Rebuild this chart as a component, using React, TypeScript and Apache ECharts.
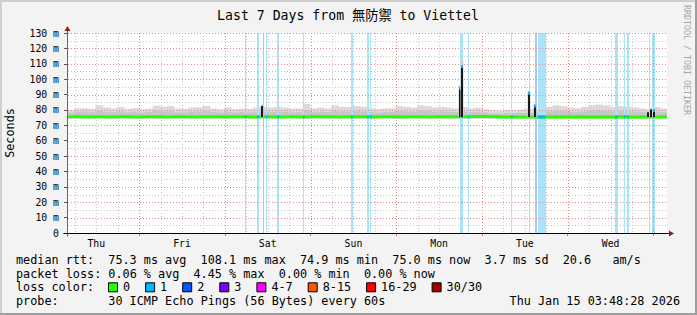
import { useEffect, useRef } from 'react';
import * as echarts from 'echarts';

// ---------- texts ----------
const titleText = 'Last 7 Days from 無防禦 to Viettel';
const yAxisTitle = 'Seconds';
const watermark = 'RRDTOOL / TOBI OETIKER';
const dayLabels = ['Thu', 'Fri', 'Sat', 'Sun', 'Mon', 'Tue', 'Wed'];
const dayNoonHours = [12, 36, 60, 84, 108, 132, 156];
const dayMidnightHours = [24, 48, 72, 96, 120, 144, 168];

// ---------- axis ranges (hours since Thu 00:00) ----------
const xStartHour = 3.8;
const xEndHour = 171.8;
const binHours = 2;
const yMax = 130;
const yStep = 10;

// ---------- smoke / median (ms), one value per 2-hour bin ----------
const smokeFloor = 74.6;
const smokeTop = [
  80.0, 81.0, 81.2, 80.8, 83.0, 81.5, 81.0, 81.8, 80.8, 81.2,
  80.5, 81.0, 82.8, 82.0, 82.5, 81.0, 80.8, 81.5, 81.8, 82.5,
  81.0, 80.5, 81.5, 80.5, 81.0, 80.8, 81.5, 82.0,
  81.5, 82.0, 81.5, 80.8, 81.0, 84.0, 81.0, 81.5, 81.0, 83.0,
  82.0, 82.0, 82.5, 82.0, 81.0, 80.5, 81.0, 81.0, 82.5, 82.0,
  81.5, 83.0, 82.5, 81.5, 82.0, 81.5, 81.0, 82.0,
  81.0, 81.5, 80.5, 79.8, 79.5, 80.0, 79.8, 80.2, 80.5, 80.5,
  81.5, 82.0, 83.0, 82.5, 81.5, 81.0, 82.0, 83.0, 83.5, 83.0,
  82.0, 82.5, 82.0, 81.5, 81.0, 80.5, 82.0, 81.0,
];
const smokeMid = [
  78.2, 78.8, 79.0, 78.5, 79.5, 78.8, 78.6, 79.0, 78.4, 78.8,
  78.2, 78.6, 79.4, 79.0, 79.2, 78.5, 78.4, 78.8, 79.0, 79.2,
  78.6, 78.2, 78.8, 78.3, 78.6, 78.4, 78.8, 79.0,
  78.8, 79.0, 78.8, 78.4, 78.6, 79.6, 78.5, 78.8, 78.6, 79.3,
  79.0, 79.0, 79.2, 79.0, 78.5, 78.2, 78.6, 78.6, 79.2, 79.0,
  78.8, 79.4, 79.2, 78.8, 79.0, 78.8, 78.6, 79.0,
  78.6, 78.8, 78.2, 77.8, 77.6, 77.9, 77.8, 78.0, 78.2, 78.2,
  78.8, 79.0, 79.4, 79.2, 78.8, 78.5, 79.0, 79.4, 79.6, 79.4,
  79.0, 79.2, 79.0, 78.8, 78.5, 78.2, 79.0, 78.5,
];
const medianBins = [
  75.5, 75.5, 75.4, 75.5, 75.5, 75.4, 75.5, 75.5, 75.5, 75.4,
  75.5, 75.5, 75.5, 75.4, 75.5, 75.5, 75.5, 75.4, 75.5, 75.5,
  75.5, 75.4, 75.5, 75.5, 75.5, 75.4, 75.5, 75.5,
  75.5, 75.4, 75.5, 75.5, 75.4, 75.5, 75.5, 75.5, 75.5, 75.4,
  75.5, 75.5, 75.5, 75.5, 75.4, 75.5, 75.5, 75.5, 75.4, 75.5,
  75.5, 75.5, 75.4, 75.5, 75.5, 75.5, 75.5, 75.6,
  75.8, 75.8, 75.8, 75.6, 75.4, 75.4, 75.4, 75.4, 75.5, 75.4,
  75.4, 75.4, 75.5, 75.4, 75.4, 75.5, 75.4, 75.4, 75.5, 75.4,
  75.4, 75.5, 75.4, 75.4, 75.5, 75.4, 75.4, 75.5,
];

// ---------- packet-loss events: [start hour, duration hours, loss level, median mark] ----------
const lossEvents = [
  [53.5, 0.3, 1, 1],
  [56.9, 0.56, 1, 1],
  [58.6, 0.3, 2, 0],
  [59.55, 0.3, 1, 1],
  [62.5, 0.56, 1, 1],
  [69.85, 0.3, 1, 1],
  [83.2, 0.42, 1, 1],
  [87.8, 0.42, 1, 1],
  [88.7, 0.3, 1, 1],
  [113.85, 0.92, 1, 0],
  [116.2, 0.3, 1, 1],
  [128.0, 0.42, 1, 1],
  [133.15, 0.3, 1, 0],
  [134.9, 0.64, 2, 0],
  [135.54, 2.15, 1, 1],
  [157.26, 0.84, 1, 1],
  [159.63, 0.42, 1, 1],
  [160.56, 0.42, 1, 1],
  [166.63, 0.3, 1, 0],
  [167.69, 0.95, 1, 0],
];

// ---------- latency spikes: [hour, dark top, smoke top, median, loss level] ----------
const spikes = [
  [58.45, 82.5, 83.5, 76.0, 0],
  [113.85, 94.3, 96.0, 94.0, 1],
  [114.5, 108.8, 112.5, 108.2, 1],
  [133.15, 91.0, 92.5, 90.8, 1],
  [134.85, 82.8, 84.0, 82.6, 1],
  [166.55, 78.5, 80.0, 75.6, 0],
  [167.4, 80.3, 81.5, 75.6, 0],
  [168.15, 80.0, 81.0, 79.6, 1],
];

// ---------- legend ----------
const statLines = [
  'median rtt:  75.3 ms avg  108.1 ms max  74.9 ms min  75.0 ms now  3.7 ms sd  20.6   am/s',
  'packet loss: 0.06 % avg  4.45 % max  0.00 % min  0.00 % now',
];
const lossColorLabel = 'loss color:';
const lossLegendLabels = ['0', '1', '2', '3', '4-7', '8-15', '16-29', '30/30'];
const lossLegendColors = ['#26ff00', '#00b8ff', '#0059ff', '#7e00ff', '#ff00ff', '#ff5500', '#ff0000', '#a00000'];
const probeLine = 'probe:       30 ICMP Echo Pings (56 Bytes) every 60s';
const timestamp = 'Thu Jan 15 03:48:28 2026';

const stripeColors = ['#ffffff', '#aae4f8', '#b6c0f2'];
const markColors = ['#26ff00', '#00b8ff', '#0059ff'];

const mono = '"DejaVu Sans Mono", monospace';

function chunks(line: string) {
  const out: { col: number; text: string }[] = [];
  const re = /\S+(?: \S+)*/g;
  let m: RegExpExecArray | null;
  while ((m = re.exec(line))) out.push({ col: m.index, text: m[0] });
  return out;
}

function txt(x: number, y: number, text: string, size: number, extra: any = {}) {
  const { align = 'left', fill = '#000', family = mono, rotation = 0 } = extra;
  return {
    type: 'text',
    x,
    y,
    rotation,
    silent: true,
    style: {
      text,
      fill,
      fontSize: size,
      fontFamily: family,
      align,
      verticalAlign: 'middle',
      textAlign: align,
      textVerticalAlign: 'middle',
    },
  };
}

function buildOption() {
  const smokeData = smokeTop.map((t, i) => [
    xStartHour + i * binHours,
    xStartHour + (i + 1) * binHours,
    smokeFloor,
    smokeMid[i],
    t,
  ]);
  const medianData: number[][] = medianBins.map((m, i) => [xStartHour + i * binHours, m]);
  medianData.push([xEndHour, medianBins[medianBins.length - 1]]);
  const avgMedian = 75.5;
  const markData = lossEvents.filter((e) => e[3] === 1).map((e) => [e[0], avgMedian, e[1], e[2]]);

  const gridData: number[][] = [];
  for (let v = 5; v <= yMax; v += 5) gridData.push([xStartHour, v, v % 10 === 0 ? 1 : 0]);
  for (let h = Math.ceil(xStartHour / 6) * 6; h < xEndHour; h += 6) gridData.push([h, 0, h % 24 === 0 ? 3 : 2]);

  // legend graphics
  const g: any[] = [];
  const lx = 16;
  const cw = 7.1;
  const rows = [260, 273.5, 287.3, 301];
  statLines.forEach((line, r) => {
    chunks(line).forEach((c) => g.push(txt(lx + c.col * cw, rows[r], c.text, 11.8)));
  });
  g.push(txt(lx, rows[2], lossColorLabel, 11.8));
  let bx = 108;
  lossLegendLabels.forEach((lab, i) => {
    g.push({
      type: 'rect',
      silent: true,
      shape: { x: bx + 0.5, y: rows[2] - 4.5, width: 9, height: 9 },
      style: { fill: lossLegendColors[i], stroke: '#000', lineWidth: 1 },
    });
    const tx = bx + 15;
    g.push(txt(tx, rows[2], lab, 11.8));
    bx = tx + lab.length * cw + 15;
  });
  chunks(probeLine).forEach((c) => g.push(txt(lx + c.col * cw, rows[3], c.text, 11.8)));
  g.push(txt(680, rows[3], timestamp, 11.8, { align: 'right' }));

  g.push(txt(348, 15, titleText, 13.2, { align: 'center', family: '"DejaVu Sans Mono", "Noto Sans CJK JP", monospace' }));
  g.push(txt(10, 133, yAxisTitle, 11.8, { align: 'center', rotation: Math.PI / 2 }));
  g.push(txt(687, 5, watermark, 8.3, { fill: '#a6a6a6', rotation: -Math.PI / 2 }));

  // 3D frame
  g.push({ type: 'line', silent: true, shape: { x1: 0, y1: 1, x2: 697, y2: 1 }, style: { stroke: '#cfcfcf', lineWidth: 2 } });
  g.push({ type: 'line', silent: true, shape: { x1: 1, y1: 0, x2: 1, y2: 315 }, style: { stroke: '#cfcfcf', lineWidth: 2 } });
  g.push({ type: 'line', silent: true, shape: { x1: 0, y1: 314, x2: 697, y2: 314 }, style: { stroke: '#9e9e9e', lineWidth: 2 } });
  g.push({ type: 'line', silent: true, shape: { x1: 696, y1: 0, x2: 696, y2: 315 }, style: { stroke: '#9e9e9e', lineWidth: 2 } });

  const labelStyle = { fontFamily: mono, fontSize: 9.8, color: '#000' };

  return {
    animation: false,
    backgroundColor: '#f3f3f3',
    grid: { left: 67, right: 30, top: 33, bottom: 82, show: true, backgroundColor: '#ffffff', borderWidth: 0, outerBoundsMode: 'none', containLabel: false },
    xAxis: {
      type: 'value',
      min: xStartHour,
      max: xEndHour,
      axisLine: { show: false },
      splitLine: { show: false },
      axisTick: { show: true, customValues: dayMidnightHours, length: 3, lineStyle: { color: '#d07070' } },
      axisLabel: {
        show: true,
        customValues: dayNoonHours,
        margin: 5,
        ...labelStyle,
        formatter: (v: number) => {
          const i = dayNoonHours.indexOf(Math.round(v));
          return i >= 0 ? dayLabels[i] : '';
        },
      },
    },
    yAxis: {
      type: 'value',
      min: 0,
      max: yMax,
      interval: yStep,
      axisLine: { show: false },
      splitLine: { show: false },
      axisTick: { show: true, length: 3, lineStyle: { color: '#555' } },
      axisLabel: { margin: 8, ...labelStyle, formatter: (v: number) => (v === 0 ? '0' : v + ' m') },
    },
    graphic: { elements: g },
    series: [
      {
        type: 'custom',
        name: 'smoke',
        z: 1,
        silent: true,
        clip: true,
        data: smokeData,
        encode: { x: [0, 1], y: [2, 3, 4] },
        renderItem: (_p: any, api: any) => {
          const b = api.coord([api.value(0), api.value(2)]);
          const m = api.coord([api.value(1), api.value(3)]);
          const t = api.coord([api.value(1), api.value(4)]);
          const w = t[0] - b[0] + 0.4;
          return {
            type: 'group',
            children: [
              { type: 'rect', shape: { x: b[0], y: t[1], width: w, height: b[1] - t[1] }, style: { fill: '#dadada' } },
              { type: 'rect', shape: { x: b[0], y: m[1], width: w, height: b[1] - m[1] }, style: { fill: '#c6c6c6' } },
            ],
          };
        },
      },
      {
        type: 'custom',
        name: 'loss',
        z: 2,
        silent: true,
        clip: true,
        data: lossEvents.map((e) => [e[0], e[1], e[2]]),
        encode: { x: 0, y: -1 },
        renderItem: (_p: any, api: any) => {
          const a = api.coord([api.value(0), yMax]);
          const b = api.coord([api.value(0) + api.value(1), 0]);
          const x = Math.round(a[0]);
          const w = Math.max(1, Math.round(b[0] - a[0]));
          return { type: 'rect', shape: { x, y: a[1], width: w, height: b[1] - a[1] }, style: { fill: stripeColors[api.value(2)] } };
        },
      },
      {
        type: 'custom',
        name: 'grid',
        z: 3,
        silent: true,
        clip: false,
        data: gridData,
        encode: { x: 0, y: 1 },
        renderItem: (_p: any, api: any) => {
          const kind = api.value(2);
          const col = kind % 2 === 1 ? '#e08c8c' : '#c6c6c6';
          if (kind < 2) {
            const a = api.coord([xStartHour, api.value(1)]);
            const b = api.coord([xEndHour, api.value(1)]);
            const y = Math.round(a[1]) + 0.5;
            return { type: 'line', shape: { x1: a[0] + 1, y1: y, x2: b[0], y2: y }, style: { stroke: col, lineWidth: 1, lineDash: [1, 2] } };
          }
          const a = api.coord([api.value(0), 0]);
          const b = api.coord([api.value(0), yMax]);
          const x = Math.round(a[0]) + 0.5;
          return { type: 'line', shape: { x1: x, y1: a[1] - 1, x2: x, y2: b[1] }, style: { stroke: col, lineWidth: 1, lineDash: [1, 2] } };
        },
      },
      {
        type: 'line',
        name: 'median',
        z: 4,
        silent: true,
        step: 'end',
        symbol: 'none',
        data: medianData,
        lineStyle: { color: '#26ff00', width: 3 },
      },
      {
        type: 'custom',
        name: 'lossMedian',
        z: 5,
        silent: true,
        clip: true,
        data: markData,
        encode: { x: 0, y: 1 },
        renderItem: (_p: any, api: any) => {
          const a = api.coord([api.value(0), api.value(1)]);
          const b = api.coord([api.value(0) + api.value(2), api.value(1)]);
          const x = Math.round(a[0]);
          const w = Math.max(1.5, b[0] - a[0]);
          return { type: 'rect', shape: { x, y: a[1] - 1.5, width: w, height: 3 }, style: { fill: markColors[api.value(3)] } };
        },
      },
      {
        type: 'custom',
        name: 'spikes',
        z: 6,
        silent: true,
        clip: true,
        data: spikes,
        encode: { x: 0, y: [1, 2, 3] },
        renderItem: (_p: any, api: any) => {
          const base = api.coord([api.value(0), 75.4]);
          const top = api.coord([api.value(0), api.value(1)]);
          const halo = api.coord([api.value(0), api.value(2)]);
          const med = api.coord([api.value(0), api.value(3)]);
          const x = Math.round(base[0]) - 1;
          const lvl = api.value(4);
          const children: any[] = [
            { type: 'rect', shape: { x: x - 0.5, y: halo[1], width: 3, height: base[1] - halo[1] }, style: { fill: '#d0d0d0' } },
            { type: 'rect', shape: { x, y: top[1], width: 2, height: base[1] - top[1] }, style: { fill: '#1a1a1a' } },
          ];
          if (lvl > 0) {
            children.push({ type: 'rect', shape: { x, y: med[1] - 1.5, width: 2, height: 3 }, style: { fill: markColors[lvl] } });
          }
          return { type: 'group', children };
        },
      },
      {
        type: 'custom',
        name: 'axes',
        z: 7,
        silent: true,
        clip: false,
        data: [[xStartHour, 0]],
        encode: { x: 0, y: 1 },
        renderItem: (_p: any, api: any) => {
          const o = api.coord([xStartHour, 0]);
          const e = api.coord([xEndHour, 0]);
          const t = api.coord([xStartHour, yMax]);
          const y0 = Math.round(o[1]) + 0.5;
          const x0 = Math.round(o[0]) + 0.5;
          const x1 = e[0];
          const yt = t[1];
          return {
            type: 'group',
            children: [
              { type: 'line', shape: { x1: x0, y1: y0 + 3, x2: x0, y2: yt - 3 }, style: { stroke: '#666', lineWidth: 1 } },
              { type: 'line', shape: { x1: x0 - 4, y1: y0, x2: x1 + 3, y2: y0 }, style: { stroke: '#000', lineWidth: 1 } },
              { type: 'polygon', shape: { points: [[x1 + 2, y0 - 3], [x1 + 7, y0], [x1 + 2, y0 + 3]] }, style: { fill: '#9b1c1c' } },
              { type: 'polygon', shape: { points: [[x0 - 3, yt - 2], [x0, yt - 7], [x0 + 3, yt - 2]] }, style: { fill: '#9b1c1c' } },
            ],
          };
        },
      },
    ],
  };
}

export default function App() {
  const ref = useRef<HTMLDivElement>(null);
  useEffect(() => {
    const chart = echarts.init(ref.current!, null, { renderer: 'svg' });
    chart.setOption(buildOption() as any);
    return () => chart.dispose();
  }, []);
  return <div ref={ref} style={{ position: 'absolute', left: 0, top: 0, width: 697, height: 315 }} />;
}
